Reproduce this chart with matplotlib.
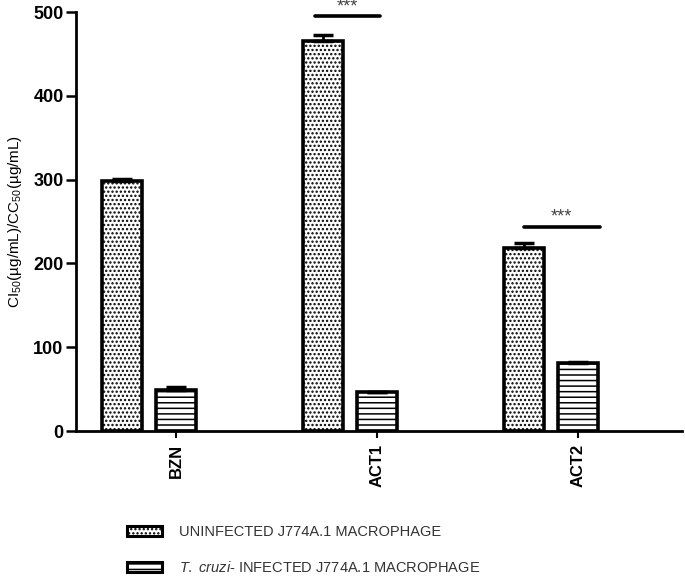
import matplotlib
matplotlib.use("Agg")
import matplotlib.pyplot as plt
from matplotlib.patches import Patch
import numpy as np

plt.rcParams['font.family'] = ['Liberation Sans', 'DejaVu Sans']
plt.rcParams['mathtext.fontset'] = 'custom'
plt.rcParams['mathtext.rm'] = 'Liberation Sans'
plt.rcParams['mathtext.it'] = 'Liberation Sans:italic'
plt.rcParams['hatch.linewidth'] = 1.1

categories = ["BZN", "ACT1", "ACT2"]
uninfected = [299, 466, 218]
uninfected_err = [2, 7, 7]
infected = [49, 46, 81]
infected_err = [3, 1, 1]
series_labels = ["UNINFECTED J774A.1 MACROPHAGE",
                 r"$\it{T.\ cruzi}$- INFECTED J774A.1 MACROPHAGE"]
yticks = [0, 100, 200, 300, 400, 500]
sig_labels = ["***", "***"]
sig_groups = [1, 2]
sig_y = [495, 244]

fig = plt.figure(figsize=(6.85, 5.77), dpi=100)
ax = fig.add_axes([0.111, 0.253, 0.885, 0.726])

x = np.arange(len(categories))
w = 0.2
off_u = -0.27
off_i = 0.0

ax.bar(x + off_u, uninfected, width=w, facecolor='white', edgecolor='black',
       linewidth=2.6, hatch='....', zorder=2)
ax.bar(x + off_i, infected, width=w, facecolor='white', edgecolor='black',
       linewidth=2.6, hatch='---', zorder=2)
ax.errorbar(x + off_u, uninfected, yerr=[np.zeros(3), uninfected_err], fmt='none',
            ecolor='black', elinewidth=2, capsize=7.5, capthick=2.5, zorder=3)
ax.errorbar(x + off_i, infected, yerr=[np.zeros(3), infected_err], fmt='none',
            ecolor='black', elinewidth=2, capsize=7.5, capthick=2.5, zorder=3)

# significance lines
spans = [(-0.31, 0.015), (-0.27, 0.11)]
for g, yv, lab, (a, b) in zip(sig_groups, sig_y, sig_labels, spans):
    ax.plot([g + a, g + b], [yv, yv], color='black', lw=2.6,
            solid_capstyle='round', clip_on=False, zorder=4)
    ax.text(g + (a + b) / 2, yv + 1, lab, ha='center', va='bottom',
            fontsize=13, color='#444444', clip_on=False)

ax.set_xlim(-0.5, 2.52)
ax.set_ylim(0, 500)
ax.set_yticks(yticks)
ax.set_yticklabels([str(t) for t in yticks], fontsize=13, fontweight='bold')
ax.set_xticks(x)
ax.set_xticklabels(categories, rotation=90, fontsize=12, fontweight='bold')
ax.tick_params(axis='y', length=7, width=1.8, pad=2)
ax.tick_params(axis='x', length=5, width=1.5, pad=4)
for s in ['top', 'right']:
    ax.spines[s].set_visible(False)
for s in ['left', 'bottom']:
    ax.spines[s].set_linewidth(2)

ax.set_ylabel(r"CI$_{50}$(µg/mL)/CC$_{50}$(µg/mL)", fontsize=11, labelpad=7)

handles = [Patch(facecolor='white', edgecolor='black', hatch='....', linewidth=2.2),
           Patch(facecolor='white', edgecolor='black', hatch='---', linewidth=2.2)]
leg = fig.legend(handles, series_labels, loc='upper left',
                 bbox_to_anchor=(0.168, 0.11), frameon=False, fontsize=10.5,
                 handlelength=2.45, handleheight=0.65, labelspacing=1.45,
                 handletextpad=1.1, borderpad=0.3)
for t in leg.get_texts():
    t.set_color('#333333')

fig.savefig("out.png", dpi=100)
